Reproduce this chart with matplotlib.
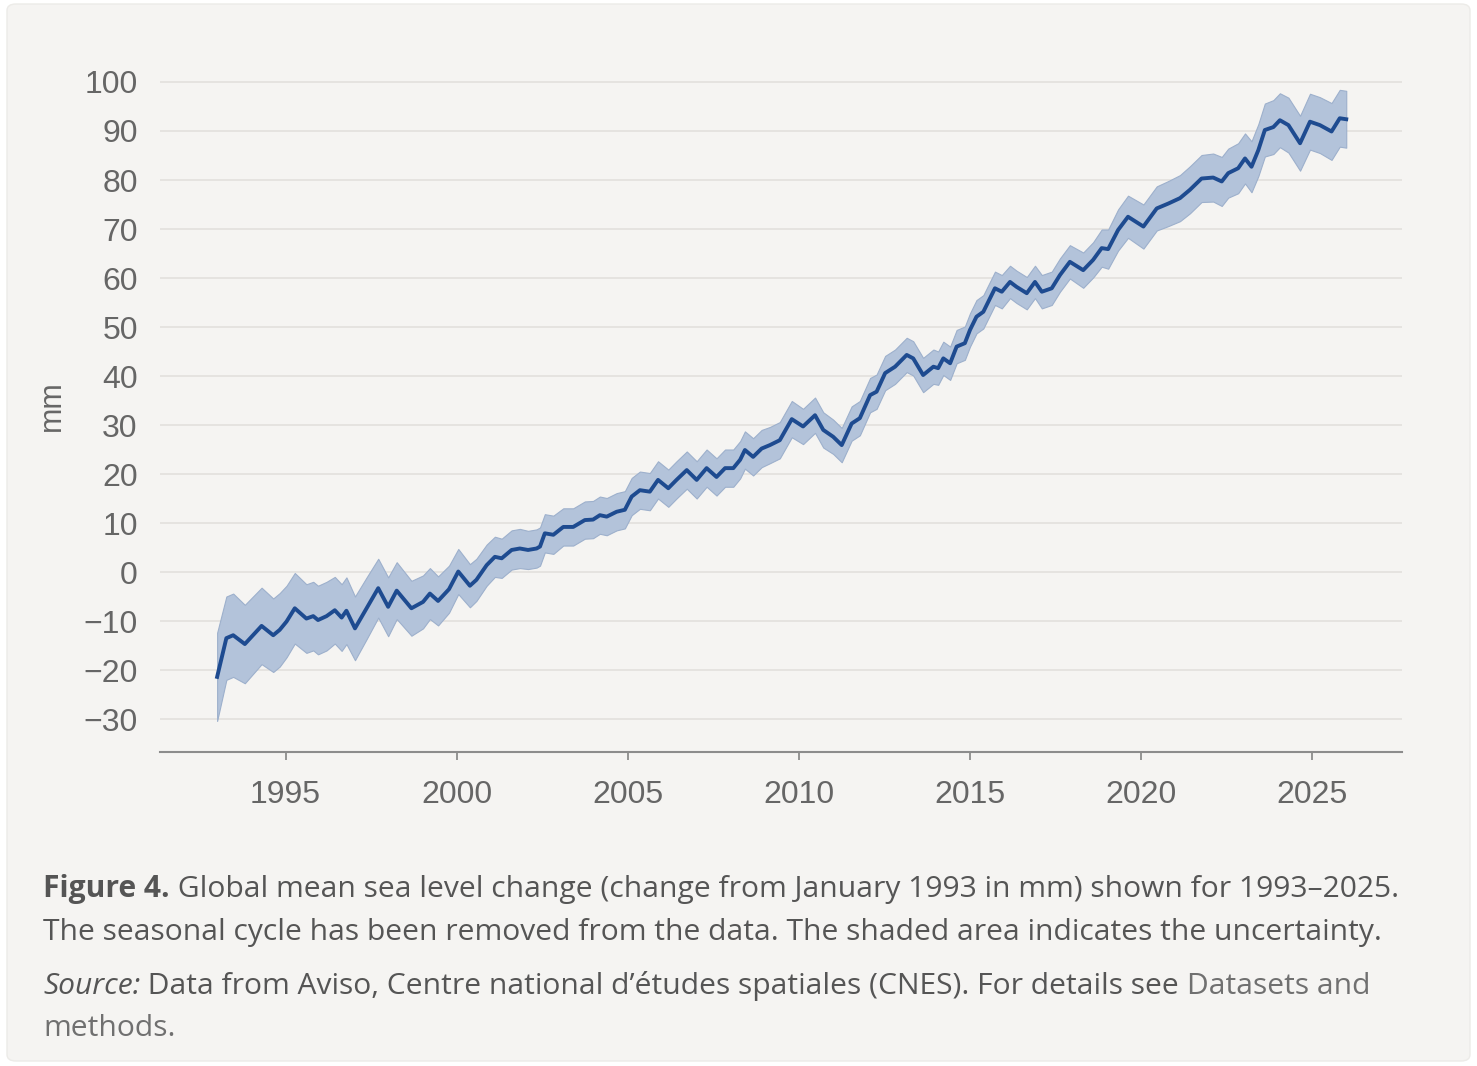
import matplotlib
matplotlib.use("Agg")
import numpy as np
import matplotlib.pyplot as plt
from matplotlib.patches import FancyBboxPatch

# global mean sea level, mm relative to Jan 1993
years = [
    1993.00, 1993.27, 1993.47, 1993.81,
    1994.30, 1994.64, 1994.83,
    1995.03, 1995.27, 1995.61, 1995.81, 1995.95,
    1996.20, 1996.44, 1996.64, 1996.78,
    1997.03, 1997.37, 1997.71,
    1998.00, 1998.25, 1998.68,
    1999.02, 1999.22, 1999.46, 1999.78,
    2000.05, 2000.39, 2000.58, 2000.88,
    2001.12, 2001.32, 2001.61, 2001.85,
    2002.09, 2002.34, 2002.44, 2002.58, 2002.83,
    2003.12, 2003.41, 2003.75, 2003.99,
    2004.19, 2004.39, 2004.68, 2004.92,
    2005.12, 2005.36, 2005.65, 2005.89,
    2006.19, 2006.43, 2006.73,
    2007.02, 2007.31, 2007.60, 2007.85,
    2008.09, 2008.29, 2008.43, 2008.67, 2008.92,
    2009.16, 2009.45, 2009.80,
    2010.13, 2010.48, 2010.72,
    2011.01, 2011.26, 2011.55, 2011.79,
    2012.09, 2012.28, 2012.53, 2012.82,
    2013.16, 2013.35, 2013.64, 2013.94,
    2014.08, 2014.23, 2014.43, 2014.62, 2014.86,
    2015.01, 2015.20, 2015.40, 2015.74, 2015.94,
    2016.18, 2016.37, 2016.67, 2016.91,
    2017.11, 2017.40, 2017.64, 2017.93,
    2018.32, 2018.61, 2018.86,
    2019.05, 2019.34, 2019.63,
    2020.08, 2020.47, 2020.81,
    2021.15, 2021.44, 2021.78,
    2022.12, 2022.37, 2022.56, 2022.85,
    2023.05, 2023.24, 2023.44, 2023.63, 2023.88,
    2024.07, 2024.32, 2024.66, 2024.95,
    2025.24, 2025.58, 2025.82, 2026.01,
]

gmsl = [
    -21.4, -13.5, -12.9, -14.7,
    -11.0, -12.9, -11.8,
    -10.1, -7.4, -9.5, -9.0, -9.8,
    -9.0, -7.8, -9.3, -7.9,
    -11.5, -7.4, -3.3,
    -7.1, -3.8, -7.4,
    -6.1, -4.4, -5.9, -3.5,
    0.1, -2.8, -1.6, 1.4,
    3.1, 2.8, 4.5, 4.8,
    4.5, 4.8, 5.2, 7.9, 7.6,
    9.2, 9.2, 10.6, 10.7,
    11.6, 11.3, 12.3, 12.7,
    15.4, 16.7, 16.4, 18.8,
    17.1, 18.8, 20.8,
    18.8, 21.2, 19.4, 21.2,
    21.2, 22.9, 24.9, 23.5, 25.2,
    25.9, 26.9, 31.2,
    29.7, 32.0, 29.0,
    27.6, 25.9, 30.3, 31.4,
    36.1, 36.8, 40.6, 41.9,
    44.3, 43.6, 40.2, 41.9,
    41.6, 43.6, 42.6, 46.0, 46.7,
    49.4, 52.1, 53.1, 57.9, 57.2,
    59.2, 58.2, 56.9, 59.2,
    57.2, 57.9, 60.6, 63.3,
    61.6, 63.7, 66.1,
    65.9, 69.8, 72.5,
    70.5, 74.2, 75.2,
    76.3, 78.0, 80.3,
    80.5, 79.7, 81.4, 82.4,
    84.4, 82.7, 86.1, 90.2, 90.8,
    92.2, 91.2, 87.5, 91.9,
    91.2, 89.9, 92.6, 92.4,
]

# half width of the shaded uncertainty band, mm
uncert = [
    9.0, 8.5, 8.5, 8.0,
    7.8, 7.5, 7.5,
    7.3, 7.2, 7.0, 7.0, 7.0,
    7.0, 6.8, 6.8, 6.8,
    6.5, 6.3, 6.0,
    6.0, 5.8, 5.6,
    5.4, 5.2, 5.0, 4.8,
    4.6, 4.4, 4.3, 4.2,
    4.1, 4.0, 4.0, 4.0,
    3.9, 3.9, 3.9, 3.9, 3.9,
    3.8, 3.8, 3.8, 3.8,
    3.8, 3.8, 3.8, 3.8,
    3.8, 3.8, 3.8, 3.8,
    3.8, 3.8, 3.8,
    3.8, 3.8, 3.8, 3.8,
    3.8, 3.8, 3.8, 3.8, 3.8,
    3.7, 3.7, 3.7,
    3.6, 3.6, 3.6,
    3.5, 3.5, 3.5, 3.5,
    3.5, 3.5, 3.5, 3.5,
    3.5, 3.5, 3.5, 3.5,
    3.4, 3.4, 3.4, 3.4, 3.4,
    3.4, 3.4, 3.4, 3.4, 3.4,
    3.3, 3.3, 3.3, 3.3,
    3.4, 3.4, 3.4, 3.4,
    3.6, 3.6, 3.8,
    4.0, 4.2, 4.3,
    4.5, 4.5, 4.6,
    4.7, 4.8, 4.8,
    4.9, 5.0, 5.0, 5.1,
    5.1, 5.2, 5.3, 5.4, 5.5,
    5.5, 5.6, 5.6, 5.7,
    5.7, 5.8, 5.8, 5.8,
]

yticks = list(range(-30, 101, 10))
xticks = [1995, 2000, 2005, 2010, 2015, 2020, 2025]

yrs = np.array(years)
v = np.array(gmsl)
u = np.array(uncert)

W, H = 1477, 1066
fig = plt.figure(figsize=(W / 100, H / 100), dpi=100)
fig.patch.set_facecolor("white")
panel = FancyBboxPatch((7 / W, 5 / H), 1463 / W, 1057 / H,
                       boxstyle="round,pad=0,rounding_size=0.006",
                       transform=fig.transFigure, facecolor="#f5f4f2",
                       edgecolor="#ecebe8", lw=1, zorder=-5)
fig.patches.append(panel)

ax = fig.add_axes([160 / W, 1 - 752 / H, (1402 - 160) / W, (752 - 72) / H])
ax.set_facecolor("none")
ax.set_zorder(2)

ax.fill_between(yrs, v - u, v + u, facecolor="#b3c3da", edgecolor="#9db0cc",
                lw=0.8, zorder=2)
ax.plot(yrs, v, color="#1e4b90", lw=2.8, zorder=3, solid_joinstyle="round")

ax.set_xlim(1991.33, 2027.64)
ax.set_ylim(-36.73, 102.04)

tick_font = "Liberation Sans"
ax.set_yticks(yticks)
ax.set_yticklabels([str(t).replace("-", "\u2212") for t in yticks],
                   fontname=tick_font)
ax.set_xticks(xticks)
ax.set_xticklabels([str(t) for t in xticks], fontname=tick_font)
ax.tick_params(axis="y", length=0, pad=16, labelsize=23, labelcolor="#666666")
ax.tick_params(axis="x", length=6, width=1.3, color="#8c8c8c", pad=14,
               labelsize=23, labelcolor="#666666")

for s in ["left", "right", "top"]:
    ax.spines[s].set_visible(False)
ax.spines["bottom"].set_color("#8c8c8c")
ax.spines["bottom"].set_linewidth(1.5)

ax.grid(axis="y", color="#e4e2df", lw=1.3)
ax.set_axisbelow(True)

ax.set_ylabel("mm", fontname=tick_font, fontsize=22, color="#666666")
ax.yaxis.set_label_coords(-0.075, 0.51)

# caption, built from pieces so the bold / italic parts line up
renderer = fig.canvas.get_renderer()
cap_font = "Open Sans"
base = "#555555"
link = "#707070"

line1 = [("Figure 4.", "bold"),
         (" Global mean sea level change (change from January 1993 in mm) shown for 1993\u20132025.", "")]

# size the caption so the first line spans the same width as in the original
probe = fig.text(0, 0, line1[0][0] + line1[1][0], fontname=cap_font, fontsize=20)
w = probe.get_window_extent(renderer).width
probe.remove()
cap_size = 20 * (1349 - 4) / w


def put_line(y_px, pieces):
    x = 43 / W
    for text, style in pieces:
        kw = dict(fontname=cap_font, fontsize=cap_size, color=base, va="baseline")
        if style == "bold":
            kw["fontweight"] = "bold"
        elif style == "italic":
            kw["fontstyle"] = "italic"
        elif style == "link":
            kw["color"] = link
        t = fig.text(x, 1 - y_px / H, text, **kw)
        x = t.get_window_extent(renderer).x1 / W


put_line(897, line1)
put_line(940, [("The seasonal cycle has been removed from the data. The shaded area indicates the uncertainty.", "")])
put_line(994, [("Source:", "italic"),
               (" Data from Aviso, Centre national d\u2019\u00e9tudes spatiales (CNES). For details see ", ""),
               ("Datasets and", "link")])
put_line(1036, [("methods.", "link")])

fig.savefig("out.png", dpi=100, facecolor=fig.get_facecolor())
